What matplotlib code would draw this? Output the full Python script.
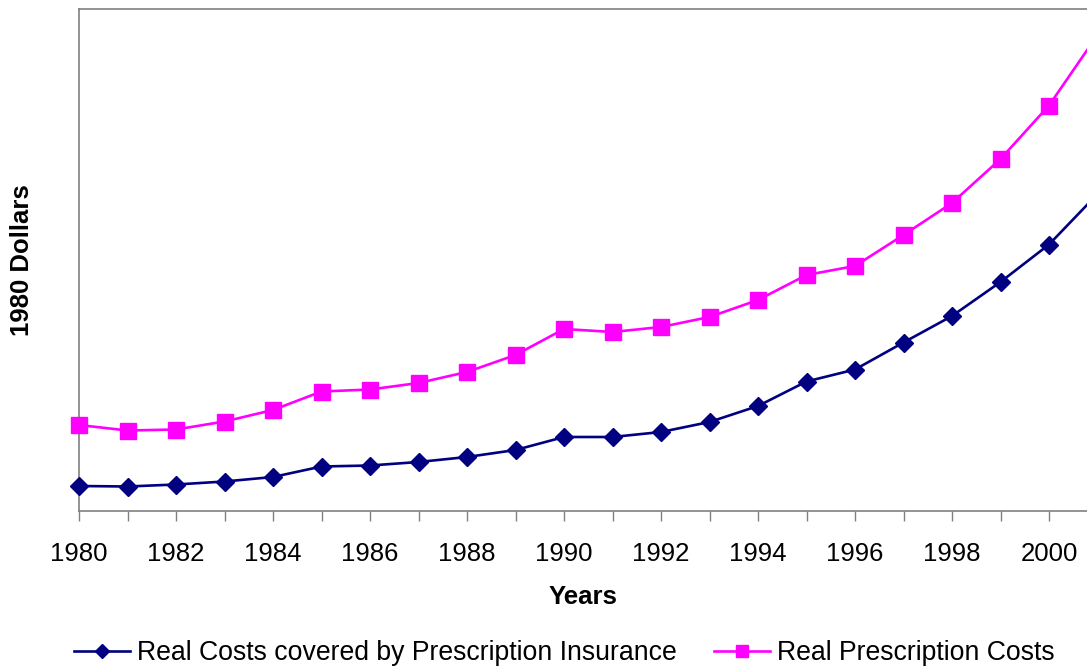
import matplotlib.pyplot as plt
from matplotlib.ticker import MultipleLocator

plt.rcParams['font.family'] = ['Liberation Sans', 'DejaVu Sans']

# Data (arbitrary units; axis has no value labels)
years = list(range(1980, 2002))
insured_costs = [25, 24.5, 26.5, 29.5, 34, 44.5, 45.5, 49, 54, 61, 74, 74, 79, 89,
                 105, 129.5, 141.5, 168.5, 195, 229, 266.5, 317]
rx_costs = [86, 80.5, 81.5, 89.5, 101, 119.5, 121.5, 128, 139, 156, 182, 179, 184, 194,
            211, 236, 245, 276, 308, 352, 405.5, 476]

NAVY = '#000080'
MAGENTA = '#FF00FF'

fig = plt.figure(figsize=(10.87, 6.68), dpi=100)
ax = fig.add_axes([79 / 1087, 1 - 511 / 668, 1 - 79 / 1087, (511 - 9) / 668])

ax.plot(years, insured_costs, '-', color=NAVY, lw=1.9, marker='D', ms=9.5,
        label='Real Costs covered by Prescription Insurance', clip_on=False, zorder=3)
ax.plot(years, rx_costs, '-', color=MAGENTA, lw=1.9, marker='s', ms=11.5,
        label='Real Prescription Costs', clip_on=False, zorder=3)

ax.set_xlim(1980, 1980 + (1087 - 79) / 48.5)
ax.set_ylim(0, 502)

ax.xaxis.set_major_locator(MultipleLocator(2))
ax.xaxis.set_minor_locator(MultipleLocator(1))
ax.tick_params(axis='x', which='both', direction='out', length=7, width=1,
               color='#808080', labelsize=18.5, pad=15)
ax.tick_params(axis='y', left=False, labelleft=False)

for side in ['left', 'top', 'bottom']:
    ax.spines[side].set_color('#808080')
    ax.spines[side].set_linewidth(1.2)
ax.spines['right'].set_visible(False)

ax.set_xlabel('Years', fontsize=18.5, fontweight='bold', labelpad=14)
fig.text(22 / 1087, 1 - 260 / 668, '1980 Dollars', rotation=90, fontsize=18.5,
         fontweight='bold', ha='center', va='center')

handles, labels = ax.get_legend_handles_labels()
leg = fig.legend(handles, labels, loc='center', bbox_to_anchor=(564 / 1087, 1 - 653 / 668),
                 ncol=2, frameon=False, fontsize=19.2, handlelength=2.1,
                 handletextpad=0.26, columnspacing=1.4, markerscale=0.7)

fig.savefig('out.png', dpi=100)
